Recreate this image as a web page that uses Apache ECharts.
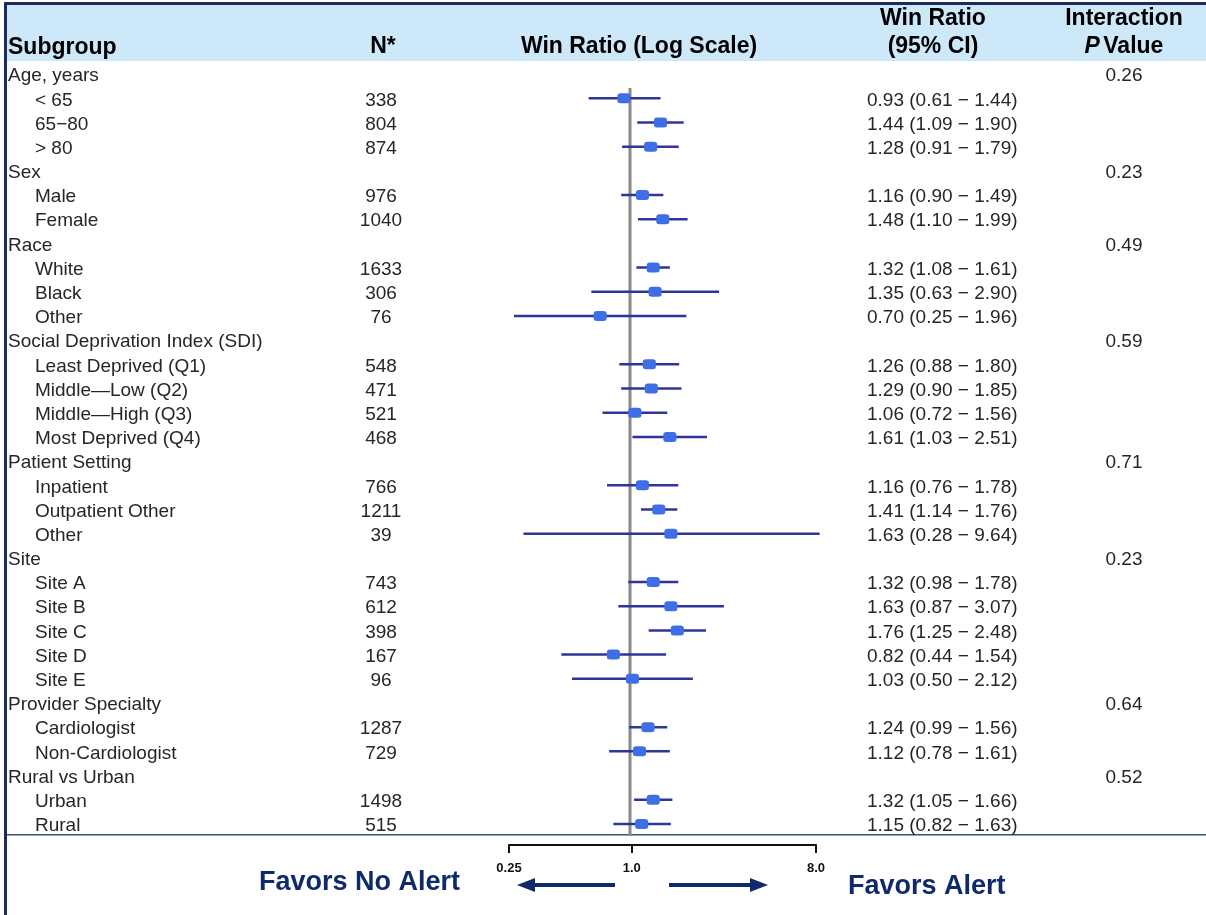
<!DOCTYPE html>
<html>
<head>
<meta charset="utf-8">
<script src="https://cdn.jsdelivr.net/npm/echarts@6/dist/echarts.min.js"></script>
<style>
html, body { margin: 0; padding: 0; background: #fff; }
#main { width: 1206px; height: 915px; }
</style>
</head>
<body>
<div id="main"></div>
<script>
// rows of the forest plot, top to bottom (null = group heading row)
var labels = ['Age, years', '< 65', '65\u221280', '> 80',
    'Sex', 'Male', 'Female',
    'Race', 'White', 'Black', 'Other',
    'Social Deprivation Index (SDI)', 'Least Deprived (Q1)', 'Middle\u2014Low (Q2)', 'Middle\u2014High (Q3)', 'Most Deprived (Q4)',
    'Patient Setting', 'Inpatient', 'Outpatient Other', 'Other',
    'Site', 'Site A', 'Site B', 'Site C', 'Site D', 'Site E',
    'Provider Specialty', 'Cardiologist', 'Non-Cardiologist',
    'Rural vs Urban', 'Urban', 'Rural'];
var nValues = [null, 338, 804, 874, null, 976, 1040, null, 1633, 306, 76,
    null, 548, 471, 521, 468, null, 766, 1211, 39,
    null, 743, 612, 398, 167, 96, null, 1287, 729, null, 1498, 515];
var winRatio = [null, 0.93, 1.44, 1.28, null, 1.16, 1.48, null, 1.32, 1.35, 0.70,
    null, 1.26, 1.29, 1.06, 1.61, null, 1.16, 1.41, 1.63,
    null, 1.32, 1.63, 1.76, 0.82, 1.03, null, 1.24, 1.12, null, 1.32, 1.15];
var ciLow = [null, 0.61, 1.09, 0.91, null, 0.90, 1.10, null, 1.08, 0.63, 0.25,
    null, 0.88, 0.90, 0.72, 1.03, null, 0.76, 1.14, 0.28,
    null, 0.98, 0.87, 1.25, 0.44, 0.50, null, 0.99, 0.78, null, 1.05, 0.82];
var ciHigh = [null, 1.44, 1.90, 1.79, null, 1.49, 1.99, null, 1.61, 2.90, 1.96,
    null, 1.80, 1.85, 1.56, 2.51, null, 1.78, 1.76, 9.64,
    null, 1.78, 3.07, 2.48, 1.54, 2.12, null, 1.56, 1.61, null, 1.66, 1.63];
var pValues = ['0.26', '', '', '', '0.23', '', '', '0.49', '', '', '',
    '0.59', '', '', '', '', '0.71', '', '', '',
    '0.23', '', '', '', '', '', '0.64', '', '', '0.52', '', ''];
var axisTicks = [0.25, 1, 8];
var axisTickLabels = ['0.25', '1.0', '8.0'];

var FONT = '"Liberation Sans", Arial, sans-serif';
var NAVY = '#10296b';

var ciData = [], pointData = [], rowData = [];
for (var i = 0; i < labels.length; i++) {
    rowData.push([1, i]);
    if (winRatio[i] != null) {
        ciData.push([ciLow[i], ciHigh[i], i]);
        pointData.push([winRatio[i], i]);
    }
}

function fmt(v) { return v.toFixed(2); }

var chart = echarts.init(document.getElementById('main'));
var option = {
    backgroundColor: '#fff',
    animation: false,
    grid: [
        { left: 456, width: 406, top: 62, height: 774 },
        { left: 509, width: 307, top: 844, height: 1 }
    ],
    xAxis: [
        { gridIndex: 0, type: 'log', logBase: 2, min: 0.125, max: 16, show: false },
        {
            gridIndex: 1, type: 'log', logBase: 2, min: 0.25, max: 8,
            axisLine: { lineStyle: { color: '#111', width: 2 } },
            axisTick: { length: 8, lineStyle: { color: '#111', width: 2 }, customValues: axisTicks },
            axisLabel: {
                customValues: axisTicks, margin: 17,
                fontFamily: FONT, fontWeight: 'bold', fontSize: 13, color: '#111',
                formatter: function (v) { return axisTickLabels[axisTicks.indexOf(v)] || ''; }
            },
            splitLine: { show: false }
        }
    ],
    yAxis: [
        { gridIndex: 0, type: 'value', min: -0.5, max: 31.5, inverse: true, show: false },
        { gridIndex: 1, type: 'value', show: false }
    ],
    graphic: [
        { type: 'rect', shape: { x: 7, y: 5, width: 1199, height: 56 }, style: { fill: '#cde8f9' }, z: -10 },
        { type: 'rect', shape: { x: 4, y: 2, width: 1202, height: 3 }, style: { fill: '#1c2b5c' } },
        { type: 'rect', shape: { x: 4, y: 2, width: 3, height: 913 }, style: { fill: '#1c2b5c' } },
        { type: 'rect', shape: { x: 7, y: 834, width: 1199, height: 1.5 }, style: { fill: '#3a4f7a' } },
        { type: 'text', x: 8, y: 48, style: { text: 'Subgroup', font: 'bold 23px ' + FONT, fill: '#000', align: 'left', verticalAlign: 'middle' } },
        { type: 'text', x: 383, y: 47, style: { text: 'N*', font: 'bold 23px ' + FONT, fill: '#000', align: 'center', verticalAlign: 'middle' } },
        { type: 'text', x: 639, y: 47, style: { text: 'Win Ratio (Log Scale)', font: 'bold 23px ' + FONT, fill: '#000', align: 'center', verticalAlign: 'middle' } },
        { type: 'text', x: 933, y: 19, style: { text: 'Win Ratio', font: 'bold 23px ' + FONT, fill: '#000', align: 'center', verticalAlign: 'middle' } },
        { type: 'text', x: 933, y: 47, style: { text: '(95% CI)', font: 'bold 23px ' + FONT, fill: '#000', align: 'center', verticalAlign: 'middle' } },
        { type: 'text', x: 1124, y: 19, style: { text: 'Interaction', font: 'bold 23px ' + FONT, fill: '#000', align: 'center', verticalAlign: 'middle' } },
        {
            type: 'text', x: 1124, y: 47,
            style: {
                text: '{i|P} {b|Value}', align: 'center', verticalAlign: 'middle',
                rich: {
                    i: { font: 'italic bold 23px ' + FONT, fill: '#000' },
                    b: { font: 'bold 23px ' + FONT, fill: '#000' }
                }
            }
        },
        // direction arrows under the axis
        { type: 'line', shape: { x1: 615, y1: 885, x2: 532, y2: 885 }, style: { stroke: NAVY, lineWidth: 4 } },
        { type: 'polygon', shape: { points: [[517, 885], [535, 878], [535, 892]] }, style: { fill: NAVY } },
        { type: 'line', shape: { x1: 669, y1: 885, x2: 753, y2: 885 }, style: { stroke: NAVY, lineWidth: 4 } },
        { type: 'polygon', shape: { points: [[768, 885], [750, 878], [750, 892]] }, style: { fill: NAVY } },
        { type: 'text', x: 460, y: 883, style: { text: 'Favors No Alert', font: 'bold 27px ' + FONT, fill: NAVY, align: 'right', verticalAlign: 'middle' } },
        { type: 'text', x: 848, y: 887, style: { text: 'Favors Alert', font: 'bold 27px ' + FONT, fill: NAVY, align: 'left', verticalAlign: 'middle' } }
    ],
    series: [
        {
            name: 'ref',
            type: 'line',
            xAxisIndex: 0, yAxisIndex: 0,
            data: [[1, 0.57], [1, 31.5]],
            symbol: 'none',
            lineStyle: { color: '#8a8a8a', width: 3 },
            z: 1
        },
        {
            name: 'ci',
            type: 'custom',
            xAxisIndex: 0, yAxisIndex: 0,
            encode: { x: [0, 1], y: 2 },
            data: ciData,
            renderItem: function (params, api) {
                var p1 = api.coord([api.value(0), api.value(2)]);
                var p2 = api.coord([api.value(1), api.value(2)]);
                return {
                    type: 'line',
                    shape: { x1: p1[0], y1: p1[1], x2: p2[0], y2: p2[1] },
                    style: { stroke: '#2f3596', lineWidth: 2.5 }
                };
            },
            z: 2
        },
        {
            name: 'win ratio',
            type: 'scatter',
            xAxisIndex: 0, yAxisIndex: 0,
            data: pointData,
            symbol: 'roundRect',
            symbolSize: [13, 10],
            itemStyle: { color: '#3f6fe6', opacity: 1 },
            z: 3
        },
        {
            name: 'table',
            type: 'custom',
            xAxisIndex: 0, yAxisIndex: 0,
            encode: { x: 0, y: 1 },
            data: rowData,
            renderItem: function (params, api) {
                var i = api.value(1);
                var y = api.coord([1, i])[1] + 2;
                var sub = nValues[i] != null;
                var body = '19px ' + FONT;
                var kids = [{
                    type: 'text',
                    x: sub ? 35 : 8, y: y,
                    style: { text: labels[i], font: body, fill: '#262626', align: 'left', verticalAlign: 'middle' }
                }];
                if (sub) {
                    kids.push({
                        type: 'text', x: 381, y: y,
                        style: { text: String(nValues[i]), font: body, fill: '#262626', align: 'center', verticalAlign: 'middle' }
                    });
                    kids.push({
                        type: 'text', x: 867, y: y,
                        style: {
                            text: fmt(winRatio[i]) + ' (' + fmt(ciLow[i]) + ' \u2212 ' + fmt(ciHigh[i]) + ')',
                            font: body, fill: '#262626', align: 'left', verticalAlign: 'middle'
                        }
                    });
                }
                if (pValues[i]) {
                    kids.push({
                        type: 'text', x: 1124, y: y,
                        style: { text: pValues[i], font: body, fill: '#262626', align: 'center', verticalAlign: 'middle' }
                    });
                }
                return { type: 'group', children: kids };
            },
            z: 4
        }
    ]
};
chart.setOption(option);
</script>
</body>
</html>
